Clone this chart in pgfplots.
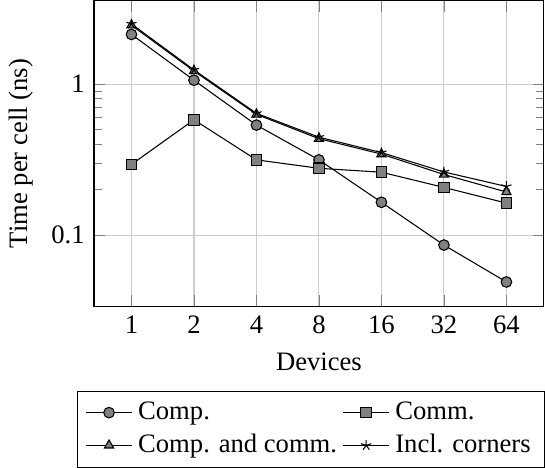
\documentclass[border=0pt]{standalone}
\usepackage{fontspec}
\setmainfont{Liberation Serif}
\usepackage{pgfplots}
\pgfplotsset{compat=1.18}
\begin{document}
\begin{tikzpicture}
\begin{axis}[
  scale only axis,
  width=169pt, height=115pt,
  ymode=log,
  xmin=-0.6, xmax=6.6,
  ymin=0.0336, ymax=3.57,
  xtick={0,1,2,3,4,5,6},
  xticklabels={1,2,4,8,16,32,64},
  ytick={0.1,1},
  yticklabels={0.1,1},
  grid=major,
  major grid style={black!20, thin},
  xlabel={Devices},
  ylabel={Time per cell (ns)},
  legend columns=2,
  legend cell align=left,
  legend style={at={(1,-0.274)}, anchor=north east, xshift=0.4pt,
    font=\normalsize, nodes={inner xsep=2.2pt}},
]
\addplot[color=black, thin, mark=*, mark options={fill=gray, draw=black}] coordinates {
  (0,2.13) (1,1.06) (2,0.535) (3,0.315) (4,0.165) (5,0.086) (6,0.049)};
\addlegendentry{Comp.}
\addplot[color=black, thin, mark=square*, mark options={fill=gray, draw=black}] coordinates {
  (0,0.294) (1,0.58) (2,0.315) (3,0.277) (4,0.261) (5,0.207) (6,0.163)};
\addlegendentry{Comm.}
\addplot[color=black, thin, mark=triangle*, mark options={fill=gray, draw=black}] coordinates {
  (0,2.45) (1,1.22) (2,0.63) (3,0.435) (4,0.344) (5,0.252) (6,0.193)};
\addlegendentry{Comp. and comm.}
\addplot[color=black, thin, mark=star, mark options={draw=black}] coordinates {
  (0,2.5) (1,1.24) (2,0.64) (3,0.445) (4,0.352) (5,0.262) (6,0.21)};
\addlegendentry{Incl. corners}
\end{axis}
\end{tikzpicture}
\end{document}
